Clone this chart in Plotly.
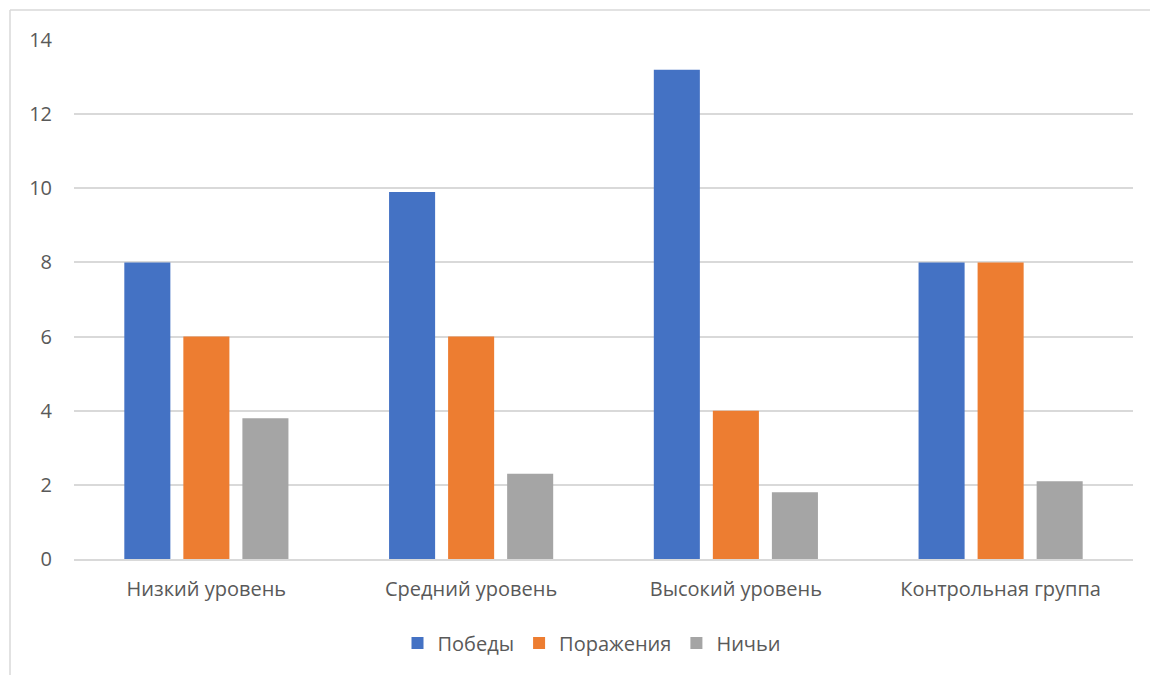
import plotly.graph_objects as go

categories = ["Низкий уровень", "Средний уровень", "Высокий уровень", "Контрольная группа"]
series_names = ["Победы", "Поражения", "Ничьи"]
wins = [8, 9.9, 13.2, 8]
losses = [6, 6, 4, 8]
draws = [3.8, 2.3, 1.8, 2.1]
colors = ["#4472C4", "#ED7D31", "#A5A5A5"]
y_ticks = [0, 2, 4, 6, 8, 10, 12, 14]

FONT = "Segoe UI, Open Sans, sans-serif"
FS = 20

fig = go.Figure()
for name, vals, col in zip(series_names, [wins, losses, draws], colors):
    fig.add_trace(go.Bar(x=categories, y=vals, name=name, marker=dict(color=col, line=dict(width=0))))

W, H = 1150, 675
L, R, T, B = 74, 17, 40, 116
pw, ph = W - L - R, H - T - B

def px_x(p):
    return (p - L) / pw

def px_y(p):
    return (H - B - p) / ph

fig.update_layout(
    width=W, height=H,
    margin=dict(l=L, r=R, t=T, b=B, pad=0),
    paper_bgcolor="white", plot_bgcolor="white",
    barmode="group", bargap=0.331, bargroupgap=0.22,
    font=dict(family=FONT, size=FS, color="#595959"),
    showlegend=True,
    legend=dict(orientation="h", x=px_x(592), xanchor="center", y=px_y(643), yanchor="middle",
                font=dict(size=FS, color="#595959"), itemwidth=30, traceorder="normal"),
    xaxis=dict(showgrid=False, showline=True, linecolor="#D9D9D9", linewidth=1.5,
               ticks="", ticklabelstandoff=11, tickfont=dict(size=FS, color="#595959")),
    yaxis=dict(range=[0, 14], tickvals=y_ticks, showgrid=True, gridcolor="#D9D9D9", gridwidth=1.5,
               zeroline=False, showline=False, ticks="", ticklabelstandoff=21,
               tickfont=dict(size=FS, color="#595959")),
    shapes=[
        dict(type="line", xref="paper", yref="paper", x0=px_x(10), x1=px_x(1150), y0=px_y(10), y1=px_y(10),
             line=dict(color="#D9D9D9", width=1.5)),
        dict(type="line", xref="paper", yref="paper", x0=px_x(10), x1=px_x(10), y0=px_y(10), y1=px_y(675),
             line=dict(color="#D9D9D9", width=1.5)),
    ],
)

fig.write_html("out.html", config={"displayModeBar": False},
               post_script="document.body.style.margin='0';document.body.style.overflow='hidden';")
